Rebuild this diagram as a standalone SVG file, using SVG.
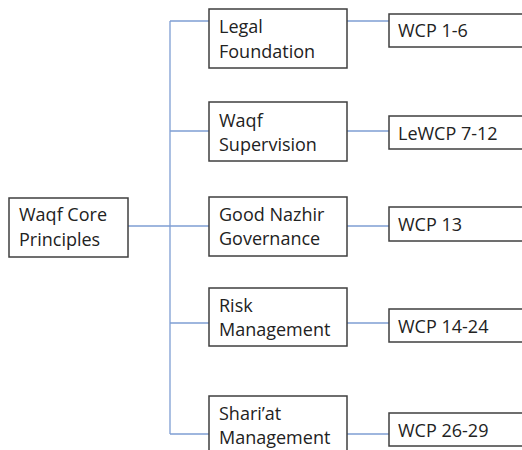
<svg xmlns="http://www.w3.org/2000/svg" width="522" height="450" viewBox="0 0 522 450">
<style>
.box{fill:#fff;stroke:#3f3f3f;stroke-width:1.5}
.t{font-family:"Open Sans","Noto Sans",sans-serif;font-size:18px;fill:#222}
.c{fill:none;stroke:#7f9ed3;stroke-width:1.3}
</style>
<rect width="522" height="450" fill="#fff"/>
<g id="connectors">
<path class="c" d="M128 226H170M170 21V434"/>
<path class="c" d="M170 21H209M347 21H389"/>
<path class="c" d="M170 131H209M347 131H389"/>
<path class="c" d="M170 226H209M347 226H389"/>
<path class="c" d="M170 323H209M347 323H389"/>
<path class="c" d="M170 434H209M347 434H389"/>
</g>
<g id="root"><rect class="box" x="9" y="198" width="119" height="59"/><text class="t" x="19" y="221">Waqf Core</text><text class="t" x="19" y="246">Principles</text></g>
<g id="legal"><rect class="box" x="209" y="9" width="138" height="59"/><text class="t" x="219" y="33">Legal</text><text class="t" x="219" y="58">Foundation</text></g>
<g id="supervision"><rect class="box" x="209" y="102" width="138" height="59"/><text class="t" x="219" y="127">Waqf</text><text class="t" x="219" y="151">Supervision</text></g>
<g id="nazhir"><rect class="box" x="209" y="197" width="138" height="59"/><text class="t" x="219" y="221">Good Nazhir</text><text class="t" x="219" y="245">Governance</text></g>
<g id="risk"><rect class="box" x="209" y="288" width="138" height="58"/><text class="t" x="219" y="312">Risk</text><text class="t" x="219" y="336">Management</text></g>
<g id="shariat"><rect class="box" x="209" y="396" width="138" height="70"/><text class="t" x="219" y="420">Shari’at</text><text class="t" x="219" y="444">Management</text></g>
<g id="wcp1"><rect class="box" x="389" y="14" width="150" height="33"/><text class="t" x="398" y="37">WCP 1-6</text></g>
<g id="wcp7"><rect class="box" x="389" y="116" width="150" height="33"/><text class="t" x="398" y="140">LeWCP 7-12</text></g>
<g id="wcp13"><rect class="box" x="389" y="207" width="150" height="34"/><text class="t" x="398" y="231">WCP 13</text></g>
<g id="wcp14"><rect class="box" x="389" y="309" width="150" height="33"/><text class="t" x="398" y="333">WCP 14-24</text></g>
<g id="wcp26"><rect class="box" x="389" y="413" width="150" height="33"/><text class="t" x="398" y="437">WCP 26-29</text></g>
</svg>
